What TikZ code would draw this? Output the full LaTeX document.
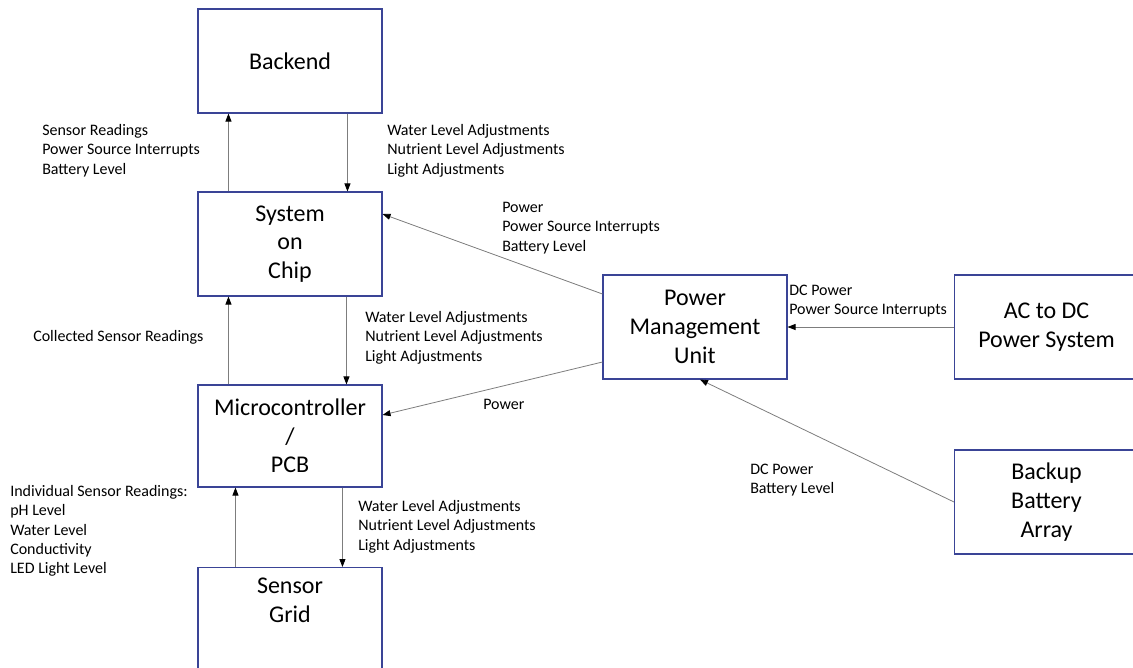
\documentclass[tikz,border=0pt]{standalone}
\usepackage{fontspec}
\setmainfont{Carlito}
\usetikzlibrary{arrows.meta,calc}
\definecolor{BoxClr}{RGB}{58,68,150}
\definecolor{FlowClr}{RGB}{125,125,125}

\tikzset{
  block/.style={draw=BoxClr,line width=0.8pt,minimum width=184*0.75pt,minimum height=104*0.75pt,
    align=center,font=\fontsize{18}{21.5}\selectfont,inner sep=0pt},
  flow/.style={draw=FlowClr,line width=0.6pt,-{Triangle[length=6pt,width=4.5pt,black]}},
  note/.style={anchor=north west,align=left,inner sep=0pt,font=\fontsize{12}{14.5}\selectfont},
}

\begin{document}
\begin{tikzpicture}[x=0.75pt,y=-0.75pt]
\useasboundingbox (0,0) rectangle (1133,668);
\begin{scope}
\clip (0,0) rectangle (1133,668);

% Blocks.
\node[block] (backend) at (290,61) {Backend};
\node[block] (soc) at (290,244) {System\\on\\Chip};
\node[block,minimum height=102*0.75pt] (mcu) at (290,436) {Microcontroller\\/\\PCB};
\node[block,anchor=north] (sensor) at (290,567) {};
\node[block,draw=none,minimum height=0pt] (sensortext) at (290,600) {Sensor\\Grid};
\node[block] (pmu) at (695,327) {Power\\Management\\Unit};
\node[block,anchor=west] (acdc) at (954,327) {AC to DC\\Power System};
\node[block,anchor=west] (battery) at (954,502) {Backup\\Battery\\Array};

% Vertical links.
\draw[flow] ($(soc.north west)+(31,0)$) coordinate (s1) -- (s1 |- backend.south);
\draw[flow] ($(backend.south west)+(150,0)$) coordinate (b1) -- (b1 |- soc.north);
\draw[flow] ($(mcu.north west)+(31,0)$) coordinate (m1) -- (m1 |- soc.south);
\draw[flow] ($(soc.south west)+(149,0)$) coordinate (s2) -- (s2 |- mcu.north);
\draw[flow] ($(sensor.north west)+(38,0)$) coordinate (g1) -- (g1 |- mcu.south);
\draw[flow] ($(mcu.south west)+(145,0)$) coordinate (m2) -- (m2 |- sensor.north);

% Power links.
\draw[flow] ($(pmu.west)+(0,-33)$) -- ($(soc.east)+(0,-30)$);
\draw[flow] ($(pmu.west)+(0,35)$) -- ($(mcu.east)+(0,-21)$);
\draw[flow] (acdc.west) -- (pmu.east);
\draw[flow] (battery.west) -- ($(pmu.south)+(5,0)$);

% Labels.
\node[note] (upsoc) at (42,124) {Sensor Readings\\Power Source Interrupts\\Battery Level};
\node[note] (downsoc) at (387,124) {Water Level Adjustments\\Nutrient Level Adjustments\\Light Adjustments};
\node[note] (pmusoc) at (502,202) {Power\\Power Source Interrupts\\Battery Level};
\node[note] (upmcu) at (33,330) {Collected Sensor Readings};
\node[note] (downmcu) at (365,311) {Water Level Adjustments\\Nutrient Level Adjustments\\Light Adjustments};
\node[note] (pmumcu) at (483,399) {Power};
\node[note] (acpmu) at (789,285) {DC Power\\Power Source Interrupts};
\node[note] (batpmu) at (750,464) {DC Power\\Battery Level};
\node[note] (upsensor) at (10,485) {Individual Sensor Readings:\\pH Level\\Water Level\\Conductivity\\LED Light Level};
\node[note] (downsensor) at (358,500) {Water Level Adjustments\\Nutrient Level Adjustments\\Light Adjustments};
\end{scope}
\end{tikzpicture}
\end{document}
